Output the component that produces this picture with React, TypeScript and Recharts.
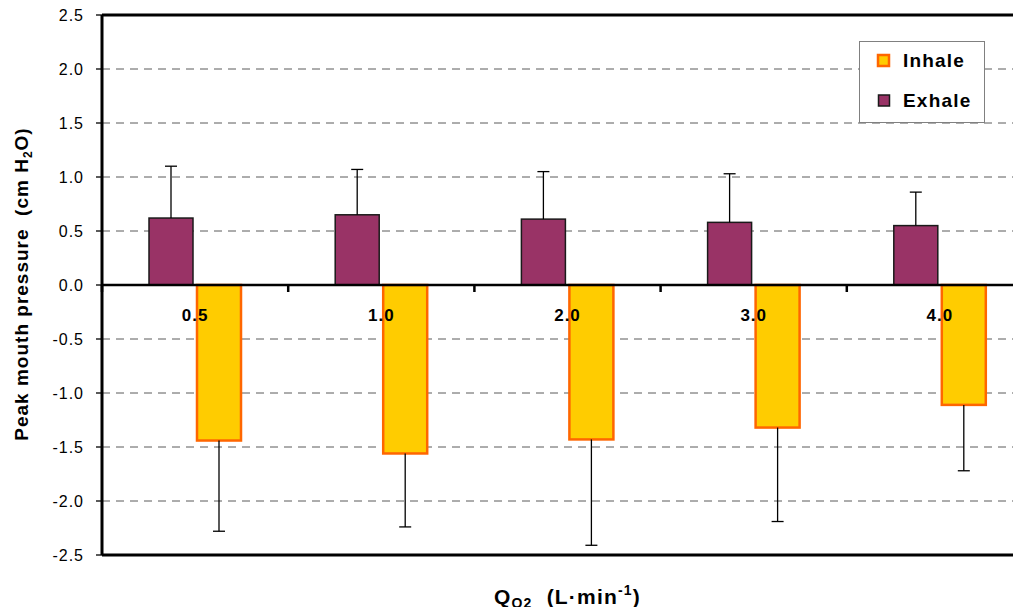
import React from 'react';
import { BarChart, Bar, XAxis, YAxis, CartesianGrid, ReferenceLine, Legend } from 'recharts';

const categories = ['0.5', '1.0', '2.0', '3.0', '4.0'];
const exhaleMean = [0.62, 0.65, 0.61, 0.58, 0.55];
const exhaleSD = [0.48, 0.42, 0.44, 0.45, 0.31];
const inhaleMean = [-1.44, -1.56, -1.43, -1.32, -1.11];
const inhaleSD = [0.84, 0.68, 0.98, 0.87, 0.61];
const yTicks = [-2.5, -2.0, -1.5, -1.0, -0.5, 0, 0.5, 1.0, 1.5, 2.0, 2.5];

const data = categories.map((q, i) => ({
  q,
  exhale: exhaleMean[i],
  exhaleSd: exhaleSD[i],
  inhale: inhaleMean[i],
  inhaleSd: inhaleSD[i],
}));

const FONT = '"Liberation Sans", Arial, Helvetica, sans-serif';

const makeShape = (key: string, sdKey: string, fill: string, stroke: string, sw: number) => (props: any) => {
  const { x, y, width, height, payload } = props;
  const v = payload[key];
  const sd = payload[sdKey];
  const h = Math.abs(height);
  const top = Math.min(y, y + height);
  const bottom = top + h;
  const ppu = h / Math.abs(v);
  const cx = x + width / 2;
  const start = v >= 0 ? top : bottom;
  const end = v >= 0 ? top - sd * ppu : bottom + sd * ppu;
  return (
    <g>
      <rect x={x} y={top} width={width} height={h} fill={fill} stroke={stroke} strokeWidth={sw} />
      <line x1={cx} x2={cx} y1={start} y2={end} stroke="#000" strokeWidth={1.3} />
      <line x1={cx - 6} x2={cx + 6} y1={end} y2={end} stroke="#000" strokeWidth={1.3} />
    </g>
  );
};

const XTick = (props: any) => {
  const { x, y, payload } = props;
  const off = payload && payload.offset ? payload.offset : 93;
  const zeroY = y - 270;
  return (
    <g>
      <line x1={x - off} x2={x - off} y1={zeroY} y2={zeroY + 7} stroke="#000" strokeWidth={2.5} />
      <text x={x} y={y - 234} textAnchor="middle" fontFamily={FONT} fontWeight="bold" fontSize={17} letterSpacing={1} fill="#000">
        {payload.value}
      </text>
    </g>
  );
};

const XTitle = (props: any) => {
  const vb = props.viewBox || { x: 102, y: 555, width: 931, height: 60 };
  const cx = vb.x + vb.width / 2;
  return (
    <text x={cx} y={vb.y + 49} textAnchor="middle" fontFamily={FONT} fontWeight="bold" fontSize={21} letterSpacing={1.2} fill="#000" style={{ whiteSpace: 'pre' }}>
      <tspan>Q</tspan>
      <tspan fontSize={14} dy={4}>O2</tspan>
      <tspan dy={-4}>{'  (L·min'}</tspan>
      <tspan fontSize={14} dy={-9}>-1</tspan>
      <tspan dy={9}>)</tspan>
    </text>
  );
};

const YTitle = (props: any) => {
  const vb = props.viewBox || { x: 0, y: 15, width: 102, height: 540 };
  const cy = vb.y + vb.height / 2 - 1;
  const bx = 28;
  return (
    <text x={bx} y={cy} transform={`rotate(-90, ${bx}, ${cy})`} textAnchor="middle" fontFamily={FONT} fontWeight="bold" fontSize={19} letterSpacing={1} fill="#000" style={{ whiteSpace: 'pre' }}>
      <tspan>{'Peak mouth pressure  (cm H'}</tspan>
      <tspan fontSize={12} dy={4}>2</tspan>
      <tspan dy={-4}>O)</tspan>
    </text>
  );
};

const LegendBox = () => (
  <svg width={126} height={82} style={{ display: 'block', background: '#fff' }}>
    <rect x={0.5} y={0.5} width={125} height={81} fill="#fff" stroke="#808080" strokeWidth={1} />
    <rect x={19} y={14} width={11} height={11} fill="#FFCC00" stroke="#FF6600" strokeWidth={2.5} />
    <text x={44} y={25.5} fontFamily={FONT} fontWeight="bold" fontSize={19} letterSpacing={1.2} fill="#000">Inhale</text>
    <rect x={19.5} y={54} width={11} height={11} fill="#993366" stroke="#1a1a1a" strokeWidth={1.5} />
    <text x={44} y={65.5} fontFamily={FONT} fontWeight="bold" fontSize={19} letterSpacing={1.2} fill="#000">Exhale</text>
  </svg>
);

export default function App() {
  return (
    <div style={{ margin: -8, width: 1021, height: 615, overflow: 'hidden', position: 'relative', background: '#fff' }}>
      <BarChart
        width={1040}
        height={615}
        data={data}
        margin={{ top: 15, right: 7, bottom: 0, left: 0 }}
        barCategoryGap={47}
        barGap={4}
      >
        <CartesianGrid vertical={false} stroke="#5a5a5a" strokeDasharray="8 6" strokeWidth={1} />
        <XAxis
          dataKey="q"
          type="category"
          height={60}
          interval={0}
          tickLine={false}
          tickSize={0}
          tickMargin={0}
          axisLine={{ stroke: '#000', strokeWidth: 3 }}
          tick={<XTick />}
          label={<XTitle />}
        />
        <YAxis
          width={102}
          domain={[-2.5, 2.5]}
          ticks={yTicks}
          interval={0}
          tickFormatter={(v: number) => v.toFixed(1)}
          tick={{ fill: '#000', fontFamily: FONT, fontSize: 16, letterSpacing: 1 }}
          tickSize={6}
          tickMargin={12}
          tickLine={{ stroke: '#000', strokeWidth: 1.3 }}
          axisLine={{ stroke: '#000', strokeWidth: 3 }}
          label={<YTitle />}
        />
        <Legend
          layout="vertical"
          align="center"
          verticalAlign="middle"
          content={<LegendBox />}
          wrapperStyle={{ left: 859, top: 41, width: 126, height: 82 }}
        />
        <Bar dataKey="exhale" name="Exhale" fill="#993366" isAnimationActive={false} shape={makeShape('exhale', 'exhaleSd', '#993366', '#1a1a1a', 1.5)} />
        <Bar dataKey="inhale" name="Inhale" fill="#FFCC00" isAnimationActive={false} shape={makeShape('inhale', 'inhaleSd', '#FFCC00', '#FF6600', 2.5)} />
        <ReferenceLine y={0} stroke="#000" strokeWidth={2.5} />
        <ReferenceLine y={2.5} stroke="#000" strokeWidth={3} />
      </BarChart>
    </div>
  );
}
